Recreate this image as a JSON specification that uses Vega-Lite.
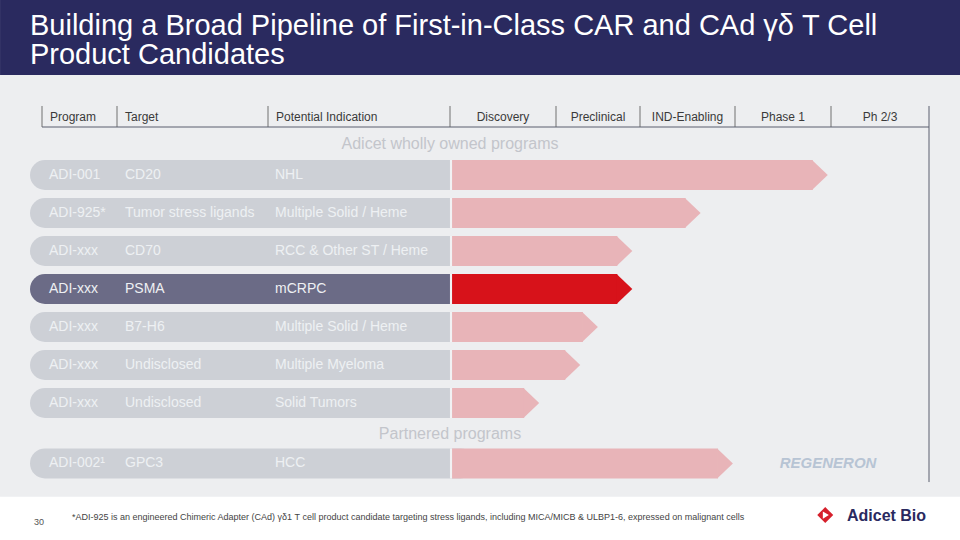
{
  "$schema": "https://vega.github.io/schema/vega-lite/v6.json",
  "width": 960,
  "height": 540,
  "autosize": {"type": "fit", "contains": "padding"},
  "padding": 0,
  "background": "#ffffff",
  "config": {"view": {"stroke": null}, "font": "Liberation Sans"},
  "datasets": {
    "programs": [
      {"program": "ADI-001", "target": "CD20", "indication": "NHL", "row": 1, "end": 7.81, "highlight": false, "partner": null},
      {"program": "ADI-925*", "target": "Tumor stress ligands", "indication": "Multiple Solid / Heme", "row": 2, "end": 6.48, "highlight": false, "partner": null},
      {"program": "ADI-xxx", "target": "CD70", "indication": "RCC & Other ST / Heme", "row": 3, "end": 5.73, "highlight": false, "partner": null},
      {"program": "ADI-xxx", "target": "PSMA", "indication": "mCRPC", "row": 4, "end": 5.73, "highlight": true, "partner": null},
      {"program": "ADI-xxx", "target": "B7-H6", "indication": "Multiple Solid / Heme", "row": 5, "end": 5.32, "highlight": false, "partner": null},
      {"program": "ADI-xxx", "target": "Undisclosed", "indication": "Multiple Myeloma", "row": 6, "end": 5.11, "highlight": false, "partner": null},
      {"program": "ADI-xxx", "target": "Undisclosed", "indication": "Solid Tumors", "row": 7, "end": 4.7, "highlight": false, "partner": null},
      {"program": "ADI-002¹", "target": "GPC3", "indication": "HCC", "row": 8.59, "end": 6.82, "highlight": false, "partner": "REGENERON"}
    ],
    "columns": [
      {"label": "Program", "pos": 1},
      {"label": "Target", "pos": 2},
      {"label": "Potential Indication", "pos": 3}
    ],
    "stages": [
      {"label": "Discovery", "mid": 4.5},
      {"label": "Preclinical", "mid": 5.5},
      {"label": "IND-Enabling", "mid": 6.5},
      {"label": "Phase 1", "mid": 7.5},
      {"label": "Ph 2/3", "mid": 8.5}
    ],
    "boundaries": [{"pos": 1}, {"pos": 2}, {"pos": 3}, {"pos": 4}, {"pos": 5}, {"pos": 6}, {"pos": 7}, {"pos": 8}],
    "sections": [
      {"label": "Adicet wholly owned programs", "row": 0.18},
      {"label": "Partnered programs", "row": 7.82}
    ],
    "one": [{"k": 1}]
  },
  "layer": [
    {
      "data": {"name": "one"},
      "mark": {"type": "rect", "color": "#edeef0"},
      "encoding": {
        "x": {"datum": 0.001, "type": "quantitative", "scale": {"type": "linear", "domain": [0, 1, 2, 3, 4, 5, 6, 7, 8, 9, 10], "range": [0, 42, 117, 268, 450, 556, 640, 735, 831, 929, 960], "nice": false, "zero": false}, "axis": null},
        "x2": {"datum": 10},
        "y": {"datum": -1.63, "type": "quantitative", "scale": {"type": "linear", "domain": [-3.605, 10.605], "range": [0, 540], "nice": false, "zero": false}, "axis": null},
        "y2": {"datum": 9.47}
      }
    },
    {
      "data": {"name": "one"},
      "mark": {"type": "rect", "color": "#2a2a5f"},
      "encoding": {
        "x": {"datum": 0.001, "type": "quantitative"},
        "x2": {"datum": 10},
        "y": {"datum": -3.605, "type": "quantitative"},
        "y2": {"datum": -1.63}
      }
    },
    {
      "data": {"name": "one"},
      "mark": {"type": "text", "text": ["Building a Broad Pipeline of First-in-Class CAR and CAd γδ T Cell", "Product Candidates"], "align": "left", "baseline": "alphabetic", "fontSize": 29, "lineHeight": 29.5, "color": "#ffffff"},
      "encoding": {
        "x": {"datum": 0.714, "type": "quantitative"},
        "y": {"datum": -2.684, "type": "quantitative"}
      }
    },
    {
      "data": {"name": "columns"},
      "mark": {"type": "text", "align": "left", "baseline": "middle", "dx": 8, "fontSize": 12, "color": "#3a3a3a"},
      "encoding": {
        "x": {"field": "pos", "type": "quantitative"},
        "y": {"datum": -0.53, "type": "quantitative"},
        "text": {"field": "label"}
      }
    },
    {
      "data": {"name": "stages"},
      "mark": {"type": "text", "align": "center", "baseline": "middle", "fontSize": 12, "color": "#3a3a3a"},
      "encoding": {
        "x": {"field": "mid", "type": "quantitative"},
        "y": {"datum": -0.53, "type": "quantitative"},
        "text": {"field": "label"}
      }
    },
    {
      "data": {"name": "boundaries"},
      "mark": {"type": "rule", "color": "#707070", "strokeWidth": 1},
      "encoding": {
        "x": {"field": "pos", "type": "quantitative"},
        "y": {"datum": -0.816, "type": "quantitative"},
        "y2": {"datum": -0.263}
      }
    },
    {
      "data": {"name": "one"},
      "mark": {"type": "rule", "color": "#5a5e6e", "strokeWidth": 1},
      "encoding": {
        "x": {"datum": 1, "type": "quantitative"},
        "x2": {"datum": 9},
        "y": {"datum": -0.263, "type": "quantitative"}
      }
    },
    {
      "data": {"name": "one"},
      "mark": {"type": "rule", "color": "#5a5e6e", "strokeWidth": 1},
      "encoding": {
        "x": {"datum": 9, "type": "quantitative"},
        "y": {"datum": -0.816, "type": "quantitative"},
        "y2": {"datum": 9.08}
      }
    },
    {
      "data": {"name": "sections"},
      "mark": {"type": "text", "align": "center", "baseline": "middle", "fontSize": 16, "color": "#c3c5cb"},
      "encoding": {
        "x": {"datum": 4, "type": "quantitative"},
        "y": {"field": "row", "type": "quantitative"},
        "text": {"field": "label"}
      }
    },
    {
      "data": {"name": "programs"},
      "transform": [{"filter": "!datum.highlight"}],
      "mark": {"type": "rule", "color": "#cdd0d6", "strokeWidth": 30, "strokeCap": "round"},
      "encoding": {
        "x": {"datum": 1.04, "type": "quantitative"},
        "x2": {"datum": 4.1},
        "y": {"field": "row", "type": "quantitative"}
      }
    },
    {
      "data": {"name": "programs"},
      "transform": [{"filter": "datum.highlight"}],
      "mark": {"type": "rule", "color": "#6b6b86", "strokeWidth": 30, "strokeCap": "round"},
      "encoding": {
        "x": {"datum": 1.04, "type": "quantitative"},
        "x2": {"datum": 4.1},
        "y": {"field": "row", "type": "quantitative"}
      }
    },
    {
      "data": {"name": "programs"},
      "transform": [{"filter": "!datum.highlight"}],
      "mark": {"type": "rule", "color": "#e8b4b8", "strokeWidth": 30, "strokeCap": "butt"},
      "encoding": {
        "x": {"field": "end", "type": "quantitative"},
        "x2": {"datum": 4.019},
        "y": {"field": "row", "type": "quantitative"}
      }
    },
    {
      "data": {"name": "programs"},
      "transform": [{"filter": "datum.highlight"}],
      "mark": {"type": "rule", "color": "#d7121a", "strokeWidth": 30, "strokeCap": "butt"},
      "encoding": {
        "x": {"field": "end", "type": "quantitative"},
        "x2": {"datum": 4.019},
        "y": {"field": "row", "type": "quantitative"}
      }
    },
    {
      "data": {"name": "programs"},
      "mark": {"type": "point", "shape": "M -0.07 -1 L 0.07 -1 L 0.07 1 L -0.07 1 Z", "size": 900, "filled": true, "opacity": 1, "strokeWidth": 0, "color": "#f1f2f4"},
      "encoding": {
        "x": {"datum": 4.0095, "type": "quantitative"},
        "y": {"field": "row", "type": "quantitative"}
      }
    },
    {
      "data": {"name": "programs"},
      "transform": [{"filter": "!datum.highlight"}],
      "mark": {"type": "point", "shape": "M -0.05 -1 L 1 0 L -0.05 1 Z", "size": 900, "filled": true, "opacity": 1, "strokeWidth": 0, "color": "#e8b4b8"},
      "encoding": {
        "x": {"field": "end", "type": "quantitative"},
        "y": {"field": "row", "type": "quantitative"}
      }
    },
    {
      "data": {"name": "programs"},
      "transform": [{"filter": "datum.highlight"}],
      "mark": {"type": "point", "shape": "M -0.05 -1 L 1 0 L -0.05 1 Z", "size": 900, "filled": true, "opacity": 1, "strokeWidth": 0, "color": "#d7121a"},
      "encoding": {
        "x": {"field": "end", "type": "quantitative"},
        "y": {"field": "row", "type": "quantitative"}
      }
    },
    {
      "data": {"name": "programs"},
      "mark": {"type": "text", "align": "left", "baseline": "middle", "dx": 7, "fontSize": 14, "color": "#eef0f3"},
      "encoding": {
        "x": {"datum": 1, "type": "quantitative"},
        "y": {"field": "row", "type": "quantitative"},
        "text": {"field": "program"}
      }
    },
    {
      "data": {"name": "programs"},
      "mark": {"type": "text", "align": "left", "baseline": "middle", "dx": 8, "fontSize": 14, "color": "#eef0f3"},
      "encoding": {
        "x": {"datum": 2, "type": "quantitative"},
        "y": {"field": "row", "type": "quantitative"},
        "text": {"field": "target"}
      }
    },
    {
      "data": {"name": "programs"},
      "mark": {"type": "text", "align": "left", "baseline": "middle", "dx": 7, "fontSize": 14, "color": "#eef0f3"},
      "encoding": {
        "x": {"datum": 3, "type": "quantitative"},
        "y": {"field": "row", "type": "quantitative"},
        "text": {"field": "indication"}
      }
    },
    {
      "data": {"name": "programs"},
      "transform": [{"filter": "datum.partner != null"}],
      "mark": {"type": "text", "align": "center", "baseline": "middle", "fontSize": 15, "fontStyle": "italic", "fontWeight": "bold", "color": "#b7c4d4"},
      "encoding": {
        "x": {"datum": 7.97, "type": "quantitative"},
        "y": {"field": "row", "type": "quantitative"},
        "text": {"field": "partner"}
      }
    },
    {
      "data": {"name": "one"},
      "mark": {"type": "text", "text": "30", "align": "left", "baseline": "middle", "fontSize": 9, "color": "#555555"},
      "encoding": {
        "x": {"datum": 0.81, "type": "quantitative"},
        "y": {"datum": 10.13, "type": "quantitative"}
      }
    },
    {
      "data": {"name": "one"},
      "mark": {"type": "text", "text": "*ADI-925 is an engineered Chimeric Adapter (CAd) γδ1 T cell product candidate targeting stress ligands, including MICA/MICB & ULBP1-6, expressed on malignant cells", "align": "left", "baseline": "middle", "fontSize": 9, "color": "#444444"},
      "encoding": {
        "x": {"datum": 1.4, "type": "quantitative"},
        "y": {"datum": 10.0, "type": "quantitative"}
      }
    },
    {
      "data": {"name": "one"},
      "mark": {"type": "point", "shape": "M -1 0 L 0 -1 L 1 0 L 0 1 Z M -0.3 -0.45 L -0.3 0.45 L 0.45 0 Z", "size": 256, "filled": true, "opacity": 1, "strokeWidth": 0, "color": "#d6202c"},
      "encoding": {
        "x": {"datum": 7.94, "type": "quantitative"},
        "y": {"datum": 9.95, "type": "quantitative"}
      }
    },
    {
      "data": {"name": "one"},
      "mark": {"type": "text", "text": "Adicet Bio", "align": "left", "baseline": "middle", "fontSize": 16, "fontWeight": "bold", "color": "#2a2a5f"},
      "encoding": {
        "x": {"datum": 8.163, "type": "quantitative"},
        "y": {"datum": 9.98, "type": "quantitative"}
      }
    }
  ]
}
